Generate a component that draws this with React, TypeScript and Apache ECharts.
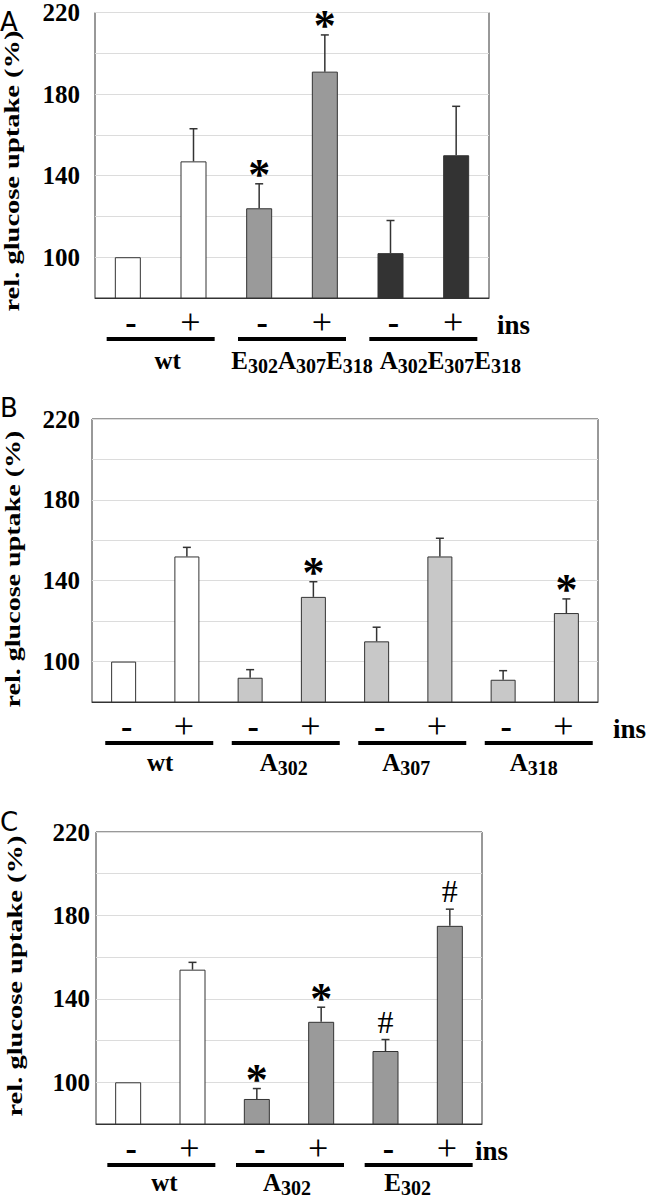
import React, { useEffect, useRef } from "react";
import * as echarts from "echarts";

// ---------- data ----------
const yTicks = [100, 140, 180, 220];

const insLabelsA = ["-", "+", "-", "+", "-", "+"];
const valuesA = [100, 147, 124, 191, 102, 150];
const errorsA = [0, 16, 12, 18, 16, 24];
const marksA = ["", "", "*", "*", "", ""];
const groupsA = ["wt", "E_302A_307E_318", "A_302E_307E_318"];

const insLabelsB = ["-", "+", "-", "+", "-", "+", "-", "+"];
const valuesB = [100, 152, 92, 132, 110, 152, 91, 124];
const errorsB = [0, 4.5, 4, 7.5, 7, 9, 4.5, 7];
const marksB = ["", "", "", "*", "", "", "", "*"];
const groupsB = ["wt", "A_302", "A_307", "A_318"];

const insLabelsC = ["-", "+", "-", "+", "-", "+"];
const valuesC = [100, 154, 92, 129, 115, 175];
const errorsC = [0, 3.5, 5, 7, 5.5, 8];
const marksC = ["", "", "*", "*", "#", "#"];
const groupsC = ["wt", "A_302", "E_302"];

const yTitle = "rel. glucose uptake (%)";
const insName = "ins";

// ---------- style / layout ----------
const SERIF = "'Liberation Serif', 'Times New Roman', serif";
const SANS = "'DejaVu Sans', sans-serif";
const WHITE = "#ffffff";
const MID = "#9a9a9a";
const DARK = "#333333";
const LIGHT = "#c8c8c8";

const panels = [
  {
    letter: "A", ins: insLabelsA, values: valuesA, errors: errorsA, marks: marksA, groups: groupsA,
    colors: [WHITE, WHITE, MID, MID, DARK, DARK],
    grid: { left: 95, top: 6, width: 394, height: 292 },
    barWidth: 26, yMargin: 15, yShift: 8,
    letterY: 22, titleX: 12, titleY: 171, titleLen: 282,
    groupDx: [7, 10, 27], lineDx: 0, insX: 497, groupDy: 62,
  },
  {
    letter: "B", ins: insLabelsB, values: valuesB, errors: errorsB, marks: marksB, groups: groupsB,
    colors: [WHITE, WHITE, LIGHT, LIGHT, LIGHT, LIGHT, LIGHT, LIGHT],
    grid: { left: 92, top: 419, width: 506, height: 283 },
    barWidth: 25, yMargin: 12, yShift: 0,
    letterY: 408, titleX: 13, titleY: 569, titleLen: 278,
    groupDx: [5, 2, -2, -1], lineDx: 4, insX: 613, groupDy: 60,
  },
  {
    letter: "C", ins: insLabelsC, values: valuesC, errors: errorsC, marks: marksC, groups: groupsC,
    colors: [WHITE, WHITE, MID, MID, MID, MID],
    grid: { left: 96, top: 832, width: 386, height: 292 },
    barWidth: 26, yMargin: 6, yShift: 8,
    letterY: 822, titleX: 15, titleY: 976, titleLen: 282,
    groupDx: [4, -2, -10], lineDx: 1, insX: 475, groupDy: 58,
  },
];

const TITLE_FONT = 22;
// approximate natural length of the title in Liberation Serif Bold, in em
const TITLE_EM = 9.9;

function groupRich(label: string): string {
  const parts = label.match(/[A-Za-z]+(?:_\d+)?/g) || [label];
  return parts
    .map((p) => {
      const [m, s] = p.split("_");
      return `{m|${m}}` + (s ? `{s|${s}}` : "");
    })
    .join("");
}

const groupRichStyles = {
  m: { fontFamily: SERIF, fontWeight: "bold", fontSize: 25, lineHeight: 32, verticalAlign: "middle", fill: "#000", color: "#000" },
  s: { fontFamily: SERIF, fontWeight: "bold", fontSize: 20, lineHeight: 16, verticalAlign: "bottom", fill: "#000", color: "#000" },
};

function buildOption() {
  const grids: any[] = [];
  const xAxes: any[] = [];
  const yAxes: any[] = [];
  const series: any[] = [];
  const graphics: any[] = [];

  panels.forEach((p, pi) => {
    const g = p.grid;
    grids.push({ ...g, show: true, borderColor: "#333", borderWidth: 1, backgroundColor: "transparent" });

    xAxes.push({
      type: "category",
      gridIndex: pi,
      data: p.ins,
      axisTick: { show: false },
      axisLine: { show: true, lineStyle: { color: "#333", width: 1 } },
      splitLine: { show: false },
      axisLabel: {
        interval: 0,
        margin: 24,
        verticalAlign: "middle",
        color: "#000",
        formatter: (_v: string, idx: number) => (p.ins[idx] === "-" ? "{m|-}" : "{p|+}"),
        rich: {
          m: { fontFamily: SERIF, fontWeight: "bold", fontSize: 34, lineHeight: 34, padding: [0, 0, 0, 6], color: "#000" },
          p: { fontFamily: SERIF, fontWeight: "normal", fontSize: 36, lineHeight: 34, padding: [0, 6, 0, 0], color: "#000" },
        },
      },
    });

    yAxes.push({
      type: "value",
      gridIndex: pi,
      min: 80,
      max: 220,
      interval: 20,
      axisLine: { show: false },
      axisTick: { show: false },
      splitLine: { show: true, lineStyle: { color: "#dcdcdc", width: 1 } },
      axisLabel: {
        margin: p.yMargin,
        color: "#000",
        fontFamily: SERIF,
        fontWeight: "bold",
        fontSize: 25,
        padding: [p.yShift, 0, 0, 0],
        formatter: (v: number) => (yTicks.includes(v) ? String(v) : ""),
      },
    });

    series.push({
      type: "bar",
      xAxisIndex: pi,
      yAxisIndex: pi,
      barWidth: p.barWidth,
      silent: true,
      itemStyle: { borderColor: "#333", borderWidth: 1 },
      data: p.values.map((v, i) => ({ value: v, itemStyle: { color: p.colors[i] } })),
      z: 2,
    });

    const errData = p.values
      .map((v, i) => [i, v, v + p.errors[i]])
      .filter((d) => p.errors[d[0]] > 0);
    series.push({
      type: "custom",
      xAxisIndex: pi,
      yAxisIndex: pi,
      silent: true,
      z: 3,
      data: errData,
      renderItem: (_params: any, api: any) => {
        const base = api.coord([api.value(0), api.value(1)]);
        const top = api.coord([api.value(0), api.value(2)]);
        const st = { stroke: "#333", lineWidth: 1.5 };
        return {
          type: "group",
          children: [
            { type: "line", shape: { x1: base[0], y1: base[1], x2: base[0], y2: top[1] }, style: st },
            { type: "line", shape: { x1: base[0] - 4, y1: top[1], x2: base[0] + 4, y2: top[1] }, style: st },
          ],
        };
      },
    });

    const markItems = p.marks
      .map((s, i) => ({ s, i }))
      .filter((m) => m.s !== "");
    series.push({
      type: "custom",
      xAxisIndex: pi,
      yAxisIndex: pi,
      silent: true,
      z: 4,
      data: markItems.map((m) => [m.i, p.values[m.i] + p.errors[m.i]]),
      renderItem: (params: any, api: any) => {
        const item = markItems[params.dataIndex];
        const pt = api.coord([api.value(0), api.value(1)]);
        const star = item.s === "*";
        return {
          type: "text",
          x: pt[0],
          y: pt[1] - (star ? 9 : 18),
          style: {
            text: item.s,
            fontFamily: SERIF,
            fontWeight: star ? "bold" : "normal",
            fontSize: star ? 44 : 32,
            fill: "#000",
            align: "center",
            verticalAlign: "middle",
            textAlign: "center",
            textVerticalAlign: "middle",
          },
        };
      },
    });

    const bottom = g.top + g.height;
    const catW = g.width / p.ins.length;

    // panel letter
    graphics.push({
      type: "text",
      x: 0,
      y: p.letterY,
      style: { text: p.letter, fontFamily: SANS, fontSize: 26, fill: "#000", align: "left", verticalAlign: "middle", textAlign: "left", textVerticalAlign: "middle" },
    });
    // y title
    graphics.push({
      type: "text",
      x: p.titleX,
      y: p.titleY,
      rotation: Math.PI / 2,
      scaleX: p.titleLen / (TITLE_EM * TITLE_FONT),
      style: { text: yTitle, fontFamily: SERIF, fontWeight: "bold", fontSize: TITLE_FONT, fill: "#000", align: "center", verticalAlign: "middle", textAlign: "center", textVerticalAlign: "middle" },
    });
    // ins
    graphics.push({
      type: "text",
      x: p.insX,
      y: bottom + 27,
      style: { text: insName, fontFamily: SERIF, fontWeight: "bold", fontSize: 27, fill: "#000", align: "left", verticalAlign: "middle", textAlign: "left", textVerticalAlign: "middle" },
    });
    // group underlines + labels
    p.groups.forEach((lab, gi) => {
      const cx = g.left + (2 * gi + 1) * catW;
      graphics.push({
        type: "rect",
        shape: { x: cx + p.lineDx - 54, y: bottom + 39, width: 108, height: 4 },
        style: { fill: "#000" },
      });
      graphics.push({
        type: "text",
        x: cx + p.groupDx[gi],
        y: bottom + p.groupDy,
        style: {
          text: groupRich(lab),
          rich: groupRichStyles,
          fill: "#000",
          align: "center",
          verticalAlign: "middle",
          textAlign: "center",
          textVerticalAlign: "middle",
        },
      });
    });
  });

  return {
    animation: false,
    backgroundColor: "#ffffff",
    grid: grids,
    xAxis: xAxes,
    yAxis: yAxes,
    series,
    graphic: { elements: graphics },
  };
}

export default function App() {
  const ref = useRef<HTMLDivElement>(null);
  useEffect(() => {
    document.body.style.margin = "0";
    if (!ref.current) return;
    const chart = echarts.init(ref.current, undefined, { renderer: "svg" });
    chart.setOption(buildOption() as any);
    return () => chart.dispose();
  }, []);
  return (
    <div
      ref={ref}
      style={{ position: "absolute", left: 0, top: 0, width: 647, height: 1199, background: "#fff" }}
    />
  );
}
